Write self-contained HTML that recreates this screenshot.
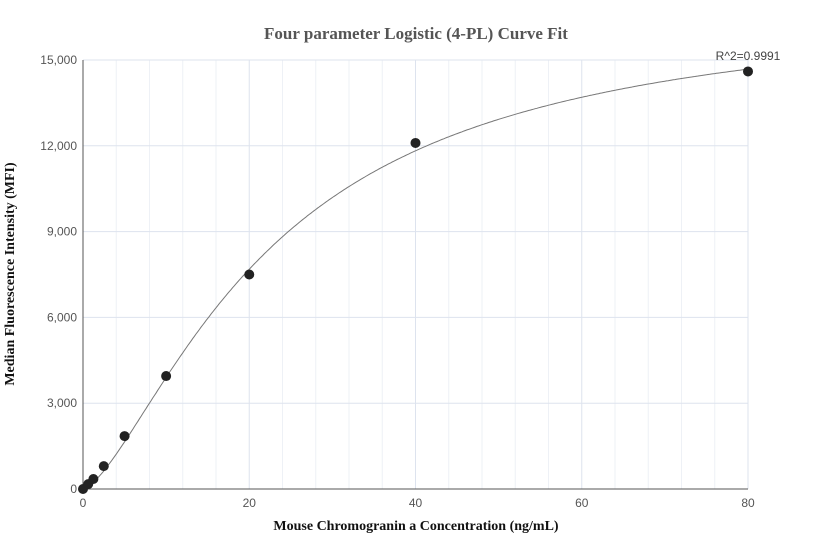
<!DOCTYPE html>
<html><head><meta charset="utf-8"><style>
body{margin:0;background:#fff;}
svg{display:block;font-family:"Liberation Sans",sans-serif;}
</style></head><body>
<svg id="chart" width="832" height="560">
<text x="416" y="39" text-anchor="middle" font-family="Liberation Serif" font-weight="bold" font-size="17" fill="#555">Four parameter Logistic (4-PL) Curve Fit</text>
<g id="grid"></g><g id="axes"></g><g id="marks"></g>
<text x="416" y="530" text-anchor="middle" font-family="Liberation Serif" font-weight="bold" font-size="14" fill="#111">Mouse Chromogranin a Concentration (ng/mL)</text>
<text transform="translate(14,274) rotate(-90)" text-anchor="middle" font-family="Liberation Serif" font-weight="bold" font-size="14" fill="#111">Median Fluorescence Intensity (MFI)</text>
<text x="748" y="60" text-anchor="middle" font-size="12" fill="#444">R^2=0.9991</text>
</svg>
<script>
const concentrations=[0,0.625,1.25,2.5,5,10,20,40,80];
const mfiValues=[0,170,350,800,1850,3950,7500,12100,14600];
const xTicks=[0,20,40,60,80];
const yTicks=[0,3000,6000,9000,12000,15000];
const fitA=0, fitB=1.47, fitC=22.8, fitD=17000;
const NS="http://www.w3.org/2000/svg";
const X0=83,X1=748,Y0=489,Y1=60;
const xs=v=>X0+(v-0)/80*(X1-X0);
const ys=v=>Y0-v/15000*(Y0-Y1);
function mk(tag,attrs,parent){const e=document.createElementNS(NS,tag);for(const k in attrs)e.setAttribute(k,attrs[k]);document.getElementById(parent).appendChild(e);return e;}
for(let v=4;v<=80;v+=4){const l=mk('line',{x1:xs(v),x2:xs(v),y1:Y1,y2:Y0,stroke:v%20===0?'#dde3ee':'#eef1f6','stroke-width':1},'grid');

}
yTicks.forEach(t=>{if(t>0){const l=mk('line',{x1:X0,x2:X1,y1:ys(t),y2:ys(t),stroke:'#dde3ee','stroke-width':1},'grid');

}
const tx=mk('text',{x:X0-6,y:ys(t)+4,'text-anchor':'end','font-size':12,fill:'#555'},'axes');tx.textContent=t.toLocaleString('en-US');

});
xTicks.forEach(t=>{const tx=mk('text',{x:xs(t),y:Y0+18,'text-anchor':'middle','font-size':12,fill:'#555'},'axes');tx.textContent=t;

});
const ax=mk('path',{d:`M${X0},${Y1}V${Y0}H${X1}`,fill:'none',stroke:'#555','stroke-width':1},'axes');


let d='';for(let i=0;i<=400;i++){const x=80*i/400;const y=fitD+(fitA-fitD)/(1+Math.pow(x/fitC,fitB));d+=(i?'L':'M')+xs(x).toFixed(1)+','+ys(y).toFixed(1);}
const c=mk('path',{d:d,fill:'none',stroke:'#777','stroke-width':1},'marks');


concentrations.forEach((x,i)=>{const p=mk('circle',{cx:xs(x),cy:ys(mfiValues[i]),r:5,fill:'#222'},'marks');

});
</script>
</body></html>
